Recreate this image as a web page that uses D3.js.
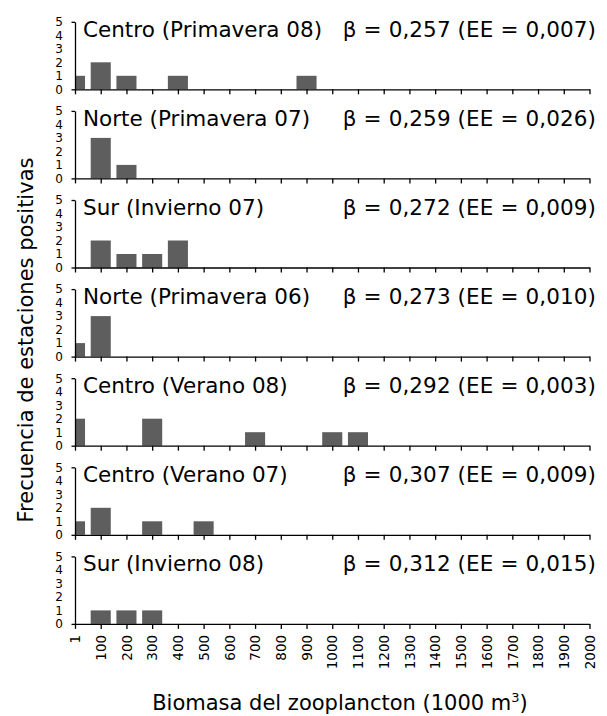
<!DOCTYPE html>
<html>
<head>
<meta charset="utf-8">
<script src="https://cdn.jsdelivr.net/npm/d3@7/dist/d3.min.js"></script>
<style>
  html, body { margin: 0; padding: 0; background: #fff; }
  svg { display: block; font-family: "DejaVu Sans", Verdana, sans-serif; }
</style>
</head>
<body>
<svg id="chart" width="607" height="716"></svg>
<script>
// Biomass classes (1000 m³) used as histogram bins
const bins = ["1","100","200","300","400","500","600","700","800","900","1000",
              "1100","1200","1300","1400","1500","1600","1700","1800","1900","2000"];

// One panel per survey, ordered by slope
const surveys = ["Centro (Primavera 08)", "Norte (Primavera 07)", "Sur (Invierno 07)",
                 "Norte (Primavera 06)", "Centro (Verano 08)", "Centro (Verano 07)",
                 "Sur (Invierno 08)"];
const betas  = ["0,257", "0,259", "0,272", "0,273", "0,292", "0,307", "0,312"];
const errors = ["0,007", "0,026", "0,009", "0,010", "0,003", "0,009", "0,015"];

// Number of positive stations per biomass bin, one row per survey
const freq = [
  [1,2,1,0,1,0,0,0,0,1,0,0,0,0,0,0,0,0,0,0,0],
  [0,3,1,0,0,0,0,0,0,0,0,0,0,0,0,0,0,0,0,0,0],
  [0,2,1,1,2,0,0,0,0,0,0,0,0,0,0,0,0,0,0,0,0],
  [1,3,0,0,0,0,0,0,0,0,0,0,0,0,0,0,0,0,0,0,0],
  [2,0,0,2,0,0,0,1,0,0,1,1,0,0,0,0,0,0,0,0,0],
  [1,2,0,1,0,1,0,0,0,0,0,0,0,0,0,0,0,0,0,0,0],
  [0,1,1,1,0,0,0,0,0,0,0,0,0,0,0,0,0,0,0,0,0]
];
const yTicks = [0,1,2,3,4,5];

const svg = d3.select("#chart");
const left = 75, right = 589.5;
const firstBase = 89.3, panelStep = 89.1, panelH = 67.5;
const barColor = "#5e5e5e";
const font = "DejaVu Sans, Verdana, sans-serif";

const x = d3.scalePoint().domain(bins).range([left, right]);
const barW = x.step() * 0.78;

svg.append("defs").append("clipPath").attr("id", "plotClip")
  .append("rect").attr("x", left).attr("y", 0).attr("width", right - left + 20).attr("height", 716);

surveys.forEach((name, i) => {
  const base = firstBase + i * panelStep;
  const y = d3.scaleLinear().domain([0, 5]).range([base, base - panelH]);
  const g = svg.append("g");
  const isLast = i === surveys.length - 1;

  // bars
  g.append("g").attr("clip-path", "url(#plotClip)")
    .selectAll("rect")
    .data(freq[i].map((v, k) => ({ bin: bins[k], v })).filter(d => d.v > 0))
    .join("rect")
    .attr("x", d => x(d.bin) - barW / 2)
    .attr("width", barW)
    .attr("y", d => y(d.v))
    .attr("height", d => y(0) - y(d.v))
    .attr("fill", barColor);

  // y axis: labels at each unit, caps at the ends
  const ya = g.append("g").attr("transform", `translate(${left},0)`)
    .call(d3.axisLeft(y).tickValues(yTicks).tickFormat(d3.format("d")).tickSize(0).tickPadding(12));
  ya.select(".domain").attr("stroke", "#000").attr("stroke-width", 1.3);
  ya.selectAll("text").attr("font-size", 12).attr("font-family", font).attr("fill", "#000");
  g.append("g").attr("transform", `translate(${left},0)`)
    .call(d3.axisLeft(y).tickValues([0, 5]).tickSize(3.5).tickFormat(""))
    .call(a => a.select(".domain").remove())
    .selectAll("line").attr("stroke", "#000").attr("stroke-width", 1.3);

  // x axis
  const xa = g.append("g").attr("transform", `translate(0,${base})`)
    .call(d3.axisBottom(x).tickSize(5).tickSizeOuter(0).tickFormat(isLast ? (d => d) : ""));
  xa.select(".domain").attr("stroke", "#000").attr("stroke-width", 1.3);
  xa.selectAll("line").attr("stroke", "#000").attr("stroke-width", 1.3);
  if (isLast) {
    xa.selectAll("text")
      .attr("transform", "rotate(-90)")
      .attr("x", -11).attr("y", 0).attr("dy", "0.35em")
      .attr("text-anchor", "end")
      .attr("font-size", 13.5)
      .attr("font-family", font)
      .attr("fill", "#000");
  }

  // panel labels
  g.append("text").attr("x", 83).attr("y", base - 52.5)
    .attr("font-size", 21.5).attr("fill", "#000").text(name);
  g.append("text").attr("x", 596).attr("y", base - 52.5)
    .attr("text-anchor", "end").attr("font-size", 21.5).attr("letter-spacing", 0.1).attr("fill", "#000")
    .text(`β = ${betas[i]} (EE = ${errors[i]})`);
});

// axis titles
const xt = svg.append("text").attr("x", 340).attr("y", 710)
  .attr("text-anchor", "middle").attr("font-size", 21).attr("fill", "#000");
xt.append("tspan").text("Biomasa del zooplancton (1000 m");
xt.append("tspan").attr("font-size", 13).attr("dy", -8).text("3");
xt.append("tspan").attr("dy", 8).text(")");

svg.append("text")
  .attr("transform", "translate(33,340) rotate(-90)")
  .attr("text-anchor", "middle").attr("font-size", 21).attr("fill", "#000")
  .text("Frecuencia de estaciones positivas");
</script>
</body>
</html>
